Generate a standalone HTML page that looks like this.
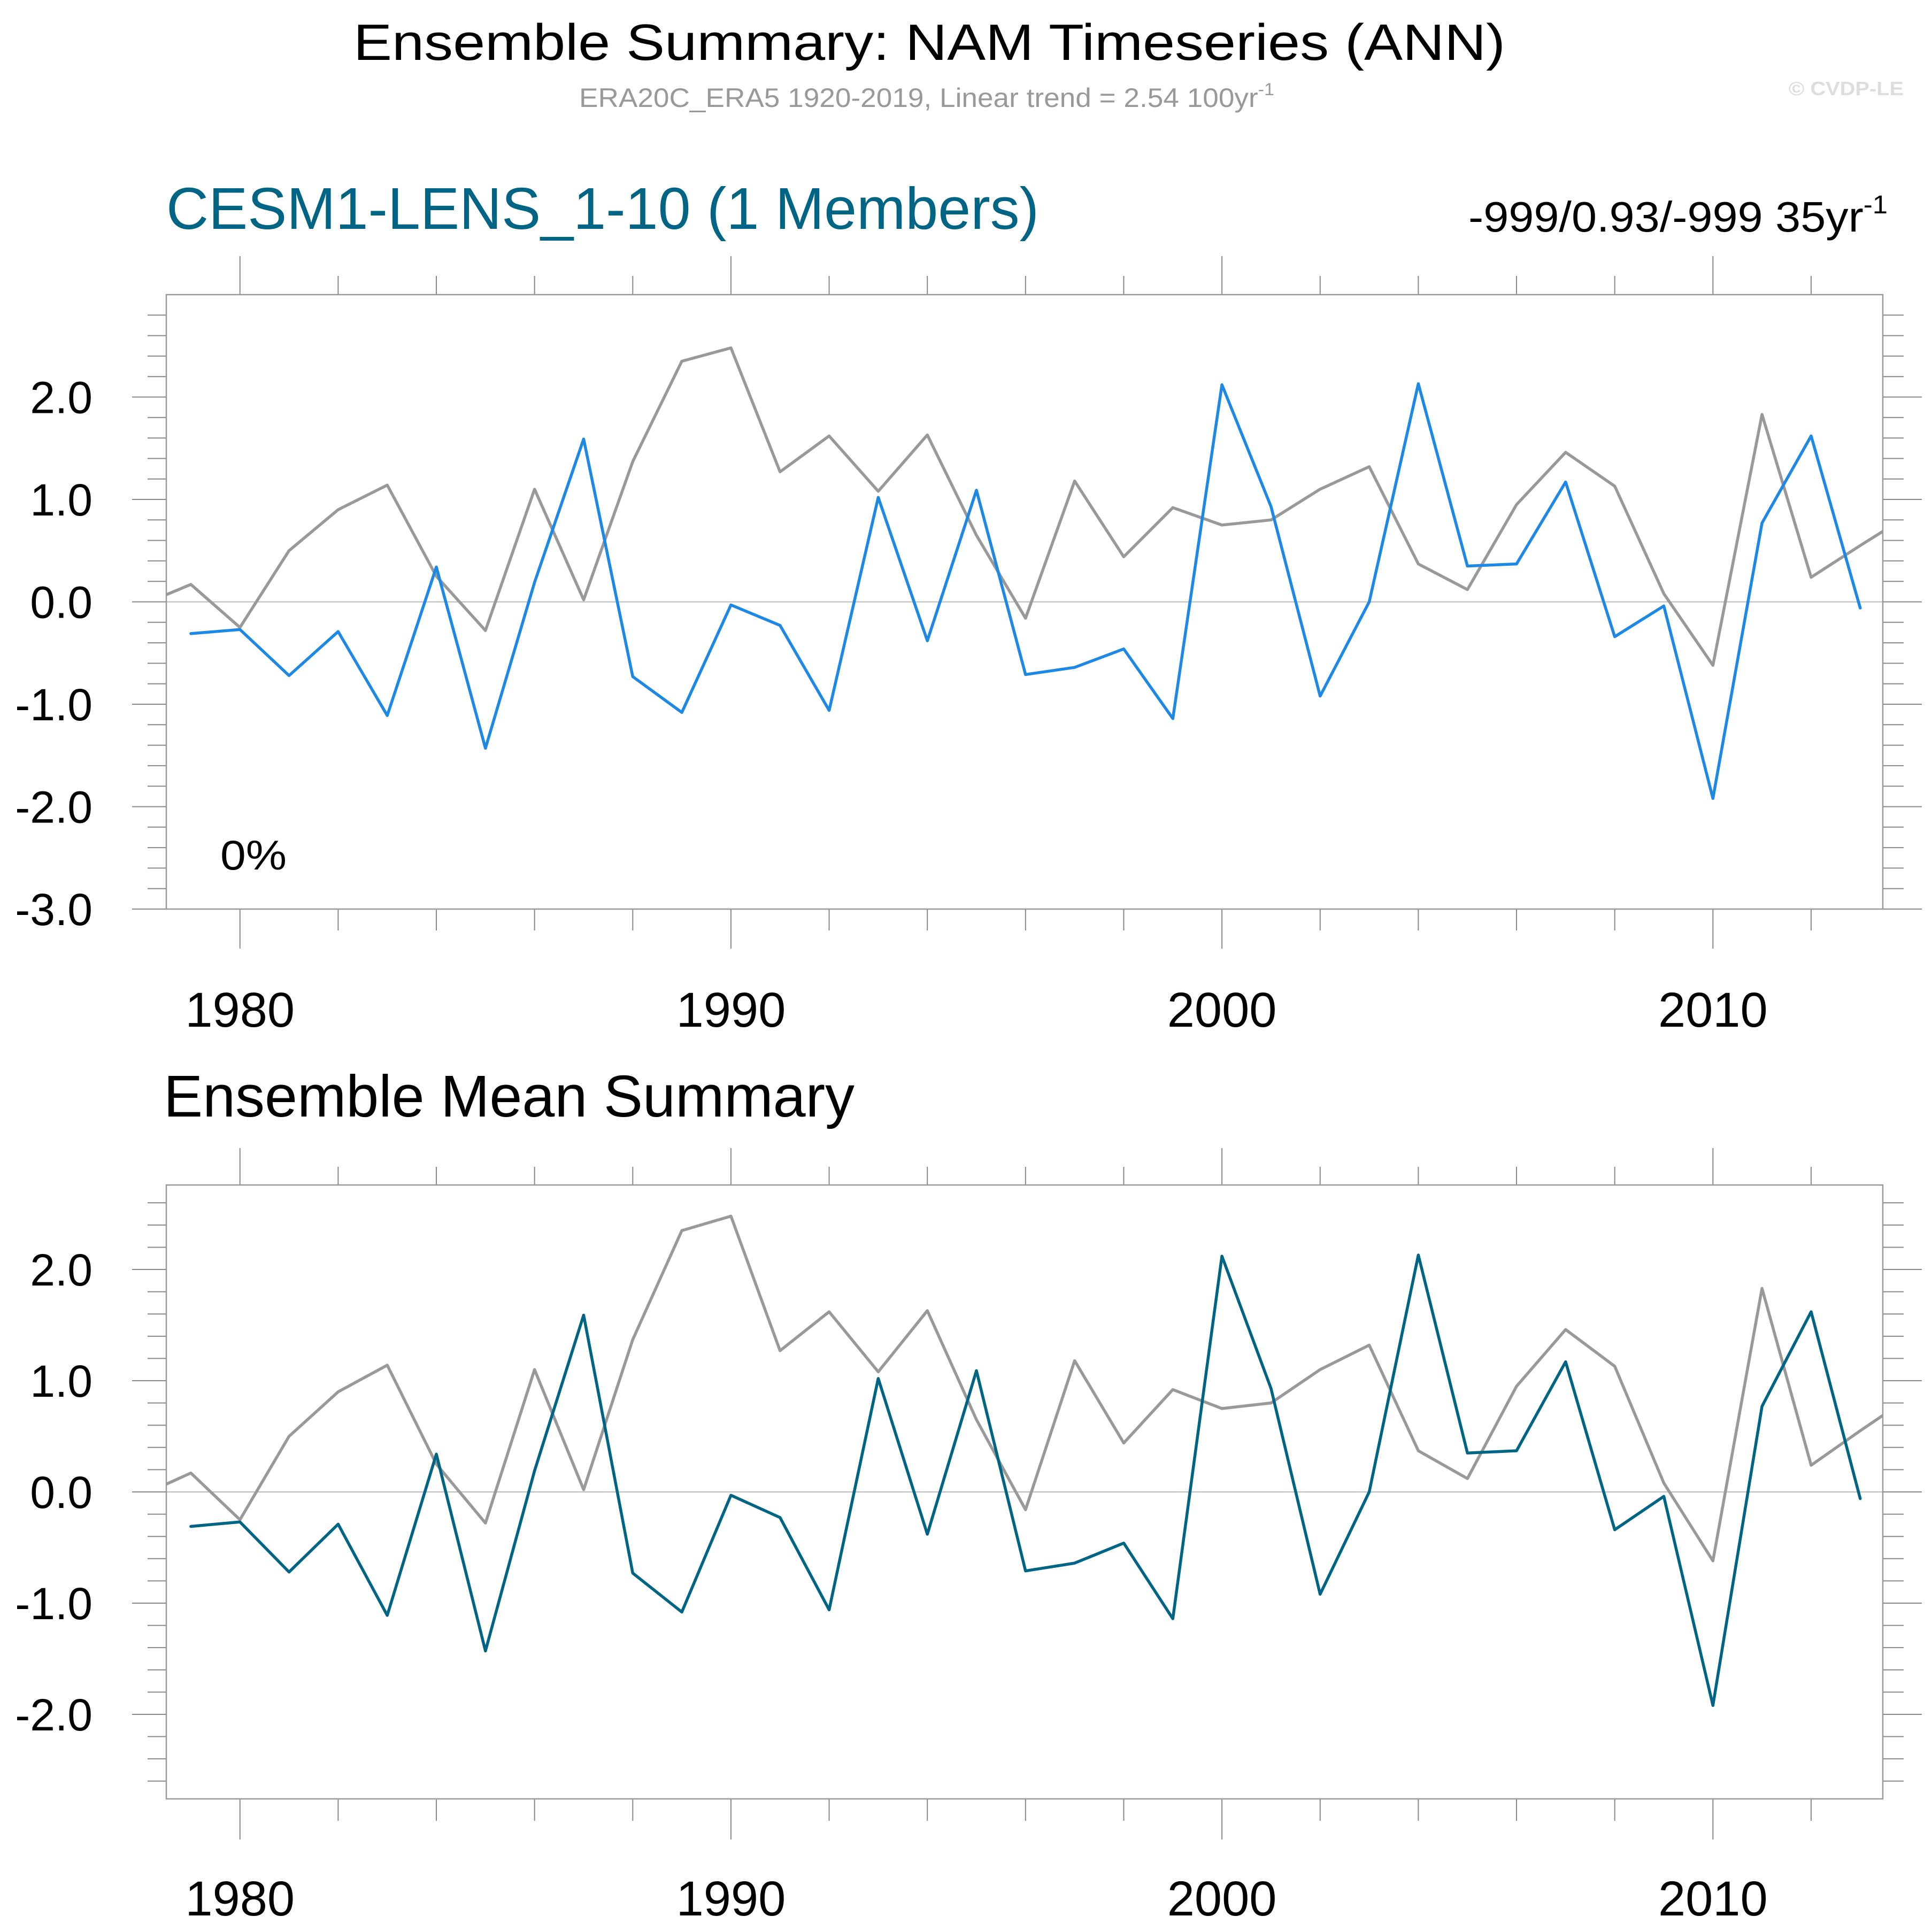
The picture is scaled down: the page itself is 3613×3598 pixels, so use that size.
<!DOCTYPE html>
<html><head><meta charset="utf-8"><style>
html,body{margin:0;padding:0;background:#fff;}
svg{display:block;font-family:"Liberation Sans",sans-serif;}
</style></head><body>
<svg id="fig" width="3613" height="3598" viewBox="0 0 3613 3598" xmlns="http://www.w3.org/2000/svg">
<text x="661" y="112" font-size="96" textLength="2154" lengthAdjust="spacingAndGlyphs">Ensemble Summary: NAM Timeseries (ANN)</text>
<text x="1083" y="200" font-size="50" fill="#999" textLength="1300" lengthAdjust="spacingAndGlyphs">ERA20C_ERA5 1920-2019, Linear trend = 2.54 100yr<tspan dy="-22" font-size="32">-1</tspan></text>
<text x="3345" y="178" font-size="36" font-weight="bold" fill="#ddd" textLength="215" lengthAdjust="spacingAndGlyphs">© CVDP-LE</text>
<text x="311" y="428" font-size="110" fill="#006585" textLength="1632" lengthAdjust="spacingAndGlyphs">CESM1-LENS_1-10 (1 Members)</text>
<text x="2746" y="433" font-size="80" textLength="784" lengthAdjust="spacingAndGlyphs">-999/0.93/-999 35yr<tspan dy="-34" font-size="48">-1</tspan></text>
<text x="306" y="2088" font-size="110" textLength="1292" lengthAdjust="spacingAndGlyphs">Ensemble Mean Summary</text>
<g id="p1"></g>
<g id="p2"></g>
<text x="412" y="1626" font-size="78" textLength="124" lengthAdjust="spacingAndGlyphs">0%</text>
</svg>
<script>
const years = [1978,1979,1980,1981,1982,1983,1984,1985,1986,1987,1988,1989,1990,1991,1992,1993,1994,1995,1996,1997,1998,1999,2000,2001,2002,2003,2004,2005,2006,2007,2008,2009,2010,2011,2012,2013,2014];
const obsValues = [-0.03,0.17,-0.25,0.5,0.9,1.14,0.25,-0.28,1.1,0.02,1.37,2.35,2.48,1.27,1.62,1.08,1.63,0.65,-0.16,1.18,0.44,0.92,0.75,0.8,1.1,1.32,0.37,0.12,0.95,1.46,1.13,0.08,-0.62,1.83,0.24,0.55,0.85];
const modelYears = [1979,1980,1981,1982,1983,1984,1985,1986,1987,1988,1989,1990,1991,1992,1993,1994,1995,1996,1997,1998,1999,2000,2001,2002,2003,2004,2005,2006,2007,2008,2009,2010,2011,2012,2013];
const modelValues = [-0.31,-0.27,-0.72,-0.29,-1.11,0.34,-1.43,0.19,1.59,-0.73,-1.08,-0.03,-0.23,-1.06,1.02,-0.38,1.09,-0.71,-0.64,-0.46,-1.14,2.12,0.93,-0.92,0.0,2.13,0.35,0.37,1.17,-0.34,-0.04,-1.92,0.77,1.62,-0.06];
const xTickLabels = ["1980","1990","2000","2010"];
const y1TickLabels = ["2.0","1.0","0.0","-1.0","-2.0","-3.0"];
const y2TickLabels = ["2.0","1.0","0.0","-1.0","-2.0"];

const NS="http://www.w3.org/2000/svg";
const L=311,R=3521,X0=1978.5,X1=2013.46;
function xs(v){return L+(v-X0)/(X1-X0)*(R-L);}
function mk(parent,tag,attrs){const e=document.createElementNS(NS,tag);for(const k in attrs)e.setAttribute(k,attrs[k]);parent.appendChild(e);return e;}

function panel(id,T,B,ymin,ymax,yLabels,color,ticksAbove,ticksBelow,xlabY,pfx){
  const g=document.getElementById(id);
  const ys=v=>B-(v-ymin)/(ymax-ymin)*(B-T);
  const clip=mk(g,'clipPath',{id:pfx+'clip'});
  mk(clip,'rect',{x:L,y:T,width:R-L,height:B-T});
  let z=mk(g,'line',{x1:L,x2:R,y1:ys(0),y2:ys(0),stroke:'#bbb','stroke-width':2});
  
  
  for(let k=Math.ceil(ymin*5-1e-6);k<=Math.floor(ymax*5+1e-6);k++){
    const v=k/5, y=ys(v), major=(k%5===0);
    if(Math.abs(v-ymax)<1e-6) continue;
    const t1=mk(g,'line',{x1:major?247:276,x2:L,y1:y,y2:y,stroke:'#888','stroke-width':2});
    
    
    const t2=mk(g,'line',{x1:R,x2:major?3594:3560,y1:y,y2:y,stroke:'#888','stroke-width':2});
    
    
  }
  yLabels.forEach(s=>{
    const t=mk(g,'text',{x:173,y:ys(parseFloat(s))+30,'font-size':84,'text-anchor':'end'});
    t.textContent=s;
    
    
  });
  for(let yr=1980;yr<=2012;yr+=2){
    const x=xs(yr), major=(yr%10===0);
    const a=mk(g,'line',{x1:x,x2:x,y1:major?ticksAbove[0]:ticksAbove[1],y2:T,stroke:'#888','stroke-width':2});
    
    
    const b=mk(g,'line',{x1:x,x2:x,y1:B,y2:major?ticksBelow[0]:ticksBelow[1],stroke:'#888','stroke-width':2});
    
    
  }
  xTickLabels.forEach(s=>{
    const t=mk(g,'text',{x:xs(parseInt(s)),y:xlabY,'font-size':92,'text-anchor':'middle'});
    t.textContent=s;
    
    
  });
  const op=mk(g,'polyline',{points:years.map((yr,i)=>xs(yr)+','+ys(obsValues[i])).join(' '),fill:'none',stroke:'#999','stroke-width':5.5,'stroke-linejoin':'round','clip-path':'url(#'+pfx+'clip)'});
  
  
  const mp=mk(g,'polyline',{points:modelYears.map((yr,i)=>xs(yr)+','+ys(modelValues[i])).join(' '),fill:'none',stroke:color,'stroke-width':5.5,'stroke-linejoin':'round','stroke-linecap':'round','clip-path':'url(#'+pfx+'clip)'});
  
  
  const box=mk(g,'rect',{x:L,y:T,width:R-L,height:B-T,fill:'none',stroke:'#999','stroke-width':2.5});
  
  
}
panel('p1',551,1700,-3,3,y1TickLabels,'#1E88E5',[479,516],[1774,1740],1920,'top-');
panel('p2',2216,3364,-2.76,2.76,y2TickLabels,'#006585',[2147,2182],[3440,3405],3582,'bottom-');
</script>
</body></html>
